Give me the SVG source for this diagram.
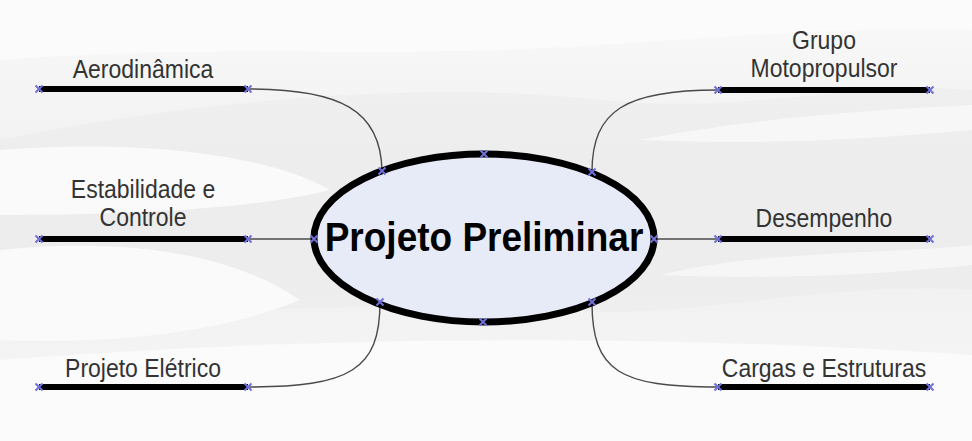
<svg xmlns="http://www.w3.org/2000/svg" width="972" height="441" viewBox="0 0 972 441">
  <defs>
    <style>
      .lbl { font-family: "Liberation Sans", Arial, sans-serif; font-size: 23px; fill: #333333; text-anchor: middle; }
      .title { font-family: "Liberation Sans", Arial, sans-serif; font-size: 37px; font-weight: bold; fill: #000000; text-anchor: middle; }
      .bar { stroke: #000000; stroke-width: 6; fill: none; }
      .conn { stroke: #4a4a4a; stroke-width: 1.4; fill: none; }
      .cloud { fill: #ebebeb; }
      .hl { fill: #fbfbfb; }
    </style>
    <linearGradient id="bg" x1="0" y1="0" x2="0" y2="1">
      <stop offset="0" stop-color="#f9f9f9"/>
      <stop offset="0.45" stop-color="#efefef"/>
      <stop offset="0.85" stop-color="#f4f4f4"/>
      <stop offset="1" stop-color="#fcfcfc"/>
    </linearGradient>
    <g id="mk">
      <path d="M-3.5,-3.5 L3.5,3.5 M-3.5,3.5 L3.5,-3.5" stroke="#7070d8" stroke-width="2"/>
    </g>
  </defs>

  <!-- background -->
  <rect x="0" y="0" width="972" height="441" fill="url(#bg)"/>
  <g>
    <path class="cloud" d="M0,140 C200,100 420,80 600,100 C740,115 860,80 972,90 L972,290 C820,280 700,320 560,310 C400,295 250,320 0,310 Z" opacity="0.6"/>
    <path class="hl" d="M0,0 L972,0 L972,30 C800,25 650,45 500,50 C350,55 200,45 0,60 Z"/>
    <path class="hl" d="M0,150 C120,140 260,150 330,190 C250,210 120,215 0,215 Z" opacity="0.9"/>
    <path class="hl" d="M0,250 C100,240 220,245 300,300 C230,330 120,345 0,340 Z" opacity="0.9"/>
    <path class="hl" d="M640,140 C740,120 860,110 972,105 L972,130 C860,140 760,145 640,140 Z" opacity="0.7"/>
    <path class="hl" d="M660,275 C760,250 880,255 972,245 L972,265 C880,275 760,280 660,275 Z" opacity="0.6"/>
    <path class="hl" d="M0,360 C250,340 600,330 972,355 L972,441 L0,441 Z"/>
  </g>

  <!-- connectors -->
  <g id="connectors">
    <path class="conn" d="M248,89 C340,89 381,110 382,171"/>
    <path class="conn" d="M718,90 C626,90 592,110 592,172"/>
    <path class="conn" d="M248,239 L314,239"/>
    <path class="conn" d="M654,239 L718,239"/>
    <path class="conn" d="M380,302 C380,370 350,387 248,387"/>
    <path class="conn" d="M592,302 C592,372 620,387 718,387"/>
  </g>

  <!-- center node -->
  <g id="center">
    <ellipse cx="484" cy="238" rx="170" ry="84" fill="#e6ebf7" stroke="#000000" stroke-width="7"/>
    <text class="title" transform="translate(484,251) scale(1,1.08)">Projeto Preliminar</text>
    <use href="#mk" x="484" y="154"/>
    <use href="#mk" x="483" y="322"/>
    <use href="#mk" x="382" y="171"/>
    <use href="#mk" x="592" y="172"/>
    <use href="#mk" x="314" y="239"/>
    <use href="#mk" x="654" y="239"/>
    <use href="#mk" x="380" y="302"/>
    <use href="#mk" x="592" y="302"/>
  </g>

  <g id="aerodinamica">
    <line class="bar" x1="39" y1="89" x2="248" y2="89"/>
    <use href="#mk" x="39" y="89"/>
    <use href="#mk" x="248" y="89"/>
    <text class="lbl" transform="translate(143,78) scale(1,1.12)">Aerodinâmica</text>
  </g>

  <g id="estabilidade">
    <line class="bar" x1="39" y1="239" x2="248" y2="239"/>
    <use href="#mk" x="39" y="239"/>
    <use href="#mk" x="248" y="239"/>
    <text class="lbl" transform="translate(143,198) scale(1,1.12)">Estabilidade e</text>
    <text class="lbl" transform="translate(143,226) scale(1,1.12)">Controle</text>
  </g>

  <g id="eletrico">
    <line class="bar" x1="39" y1="387" x2="248" y2="387"/>
    <use href="#mk" x="39" y="387"/>
    <use href="#mk" x="248" y="387"/>
    <text class="lbl" transform="translate(143,377) scale(1,1.12)">Projeto Elétrico</text>
  </g>

  <g id="motopropulsor">
    <line class="bar" x1="718" y1="90" x2="930" y2="90"/>
    <use href="#mk" x="718" y="90"/>
    <use href="#mk" x="930" y="90"/>
    <text class="lbl" transform="translate(824,49) scale(1,1.12)">Grupo</text>
    <text class="lbl" transform="translate(824,77) scale(1,1.12)">Motopropulsor</text>
  </g>

  <g id="desempenho">
    <line class="bar" x1="718" y1="239" x2="930" y2="239"/>
    <use href="#mk" x="718" y="239"/>
    <use href="#mk" x="930" y="239"/>
    <text class="lbl" transform="translate(824,227) scale(1,1.12)">Desempenho</text>
  </g>

  <g id="cargas">
    <line class="bar" x1="718" y1="387" x2="930" y2="387"/>
    <use href="#mk" x="718" y="387"/>
    <use href="#mk" x="930" y="387"/>
    <text class="lbl" transform="translate(824,377) scale(1,1.12)">Cargas e Estruturas</text>
  </g>
</svg>
